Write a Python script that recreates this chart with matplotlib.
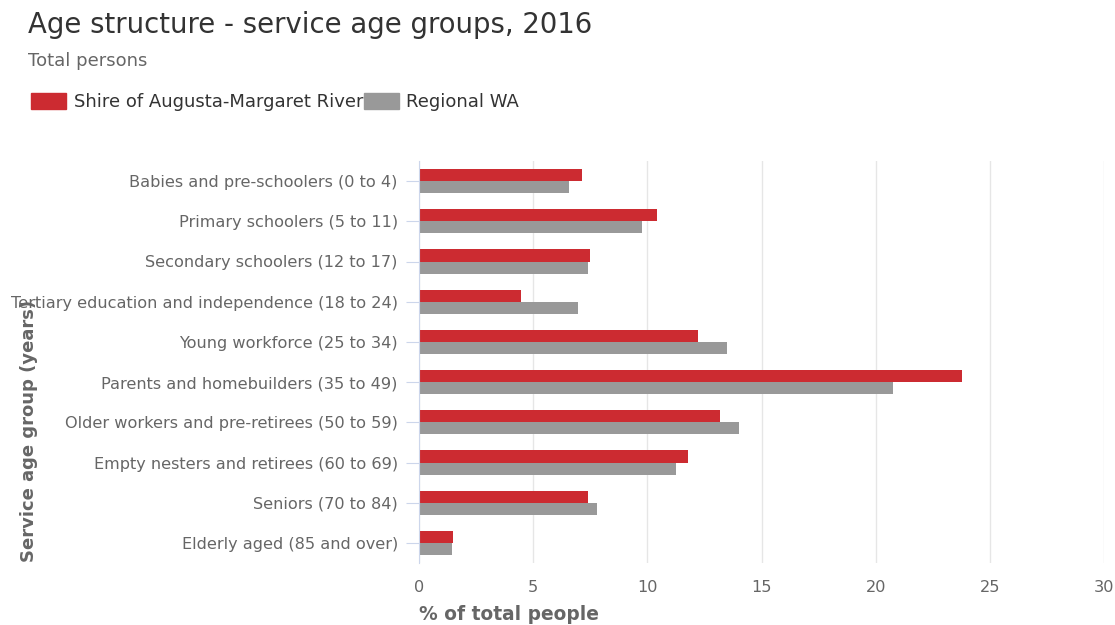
import matplotlib.pyplot as plt
from matplotlib.patches import Patch

plt.rcParams['font.family'] = ['DejaVu Sans']

grupos = [
    "Babies and pre-schoolers (0 to 4)",
    "Primary schoolers (5 to 11)",
    "Secondary schoolers (12 to 17)",
    "Tertiary education and independence (18 to 24)",
    "Young workforce (25 to 34)",
    "Parents and homebuilders (35 to 49)",
    "Older workers and pre-retirees (50 to 59)",
    "Empty nesters and retirees (60 to 69)",
    "Seniors (70 to 84)",
    "Elderly aged (85 and over)",
]
series = ["Shire of Augusta-Margaret River", "Regional WA"]
augusta = [7.16, 10.42, 7.5, 4.48, 12.22, 23.8, 13.2, 11.77, 7.4, 1.51]
regional = [6.59, 9.75, 7.39, 6.95, 13.47, 20.77, 14.0, 11.27, 7.79, 1.44]
ticks_x = [0, 5, 10, 15, 20, 25, 30]

rojo = "#cc2b31"
gris = "#999999"
texto = "#666666"

fig = plt.figure(figsize=(11.15, 6.25), dpi=100)
ax = fig.add_axes([419 / 1115, 1 - 563 / 625, 685 / 1115, 402 / 625])

pos = list(range(len(grupos)))
alto = 0.3
ax.barh([p - alto / 2 for p in pos], augusta, height=alto, color=rojo, zorder=3)
ax.barh([p + alto / 2 for p in pos], regional, height=alto, color=gris, zorder=3)

ax.set_xlim(0, 30)
ax.set_ylim(len(grupos) - 0.5, -0.5)
ax.set_xticks(ticks_x)
ax.set_yticks(pos)
ax.set_yticklabels(grupos)
ax.tick_params(axis="y", length=9.5, color="#ccd6eb", labelsize=11.6, labelcolor=texto, pad=5.8)
ax.tick_params(axis="x", length=0, labelsize=11.6, labelcolor=texto, pad=12)
ax.grid(axis="x", color="#e6e6e6", linewidth=1, zorder=0)

for lado in ["top", "right", "bottom"]:
    ax.spines[lado].set_visible(False)
ax.spines["left"].set_color("#ccd6eb")
ax.spines["left"].set_zorder(4)

fig.text(419 / 1115, 1 - 614 / 625, "% of total people", fontsize=13.4, fontweight="bold",
         color=texto, ha="left", va="center")
fig.text(29 / 1115, 1 - 431 / 625, "Service age group (years)", fontsize=13, fontweight="bold",
         color=texto, rotation=90, ha="center", va="center")

fig.text(28 / 1115, 1 - 25 / 625, "Age structure - service age groups, 2016", fontsize=19.8,
         color="#333333", ha="left", va="center")
fig.text(28 / 1115, 1 - 61 / 625, "Total persons", fontsize=13, color=texto, ha="left", va="center")

handles = [Patch(color=rojo), Patch(color=gris)]
fig.legend(handles, series, loc="center left", bbox_to_anchor=(15 / 1115, 1 - 102 / 625),
           ncol=2, frameon=False, fontsize=13.0, handlelength=1.95, handleheight=0.95,
           handletextpad=0.4, columnspacing=0.03, labelcolor="#333333")

fig.savefig("out.png", dpi=100)
